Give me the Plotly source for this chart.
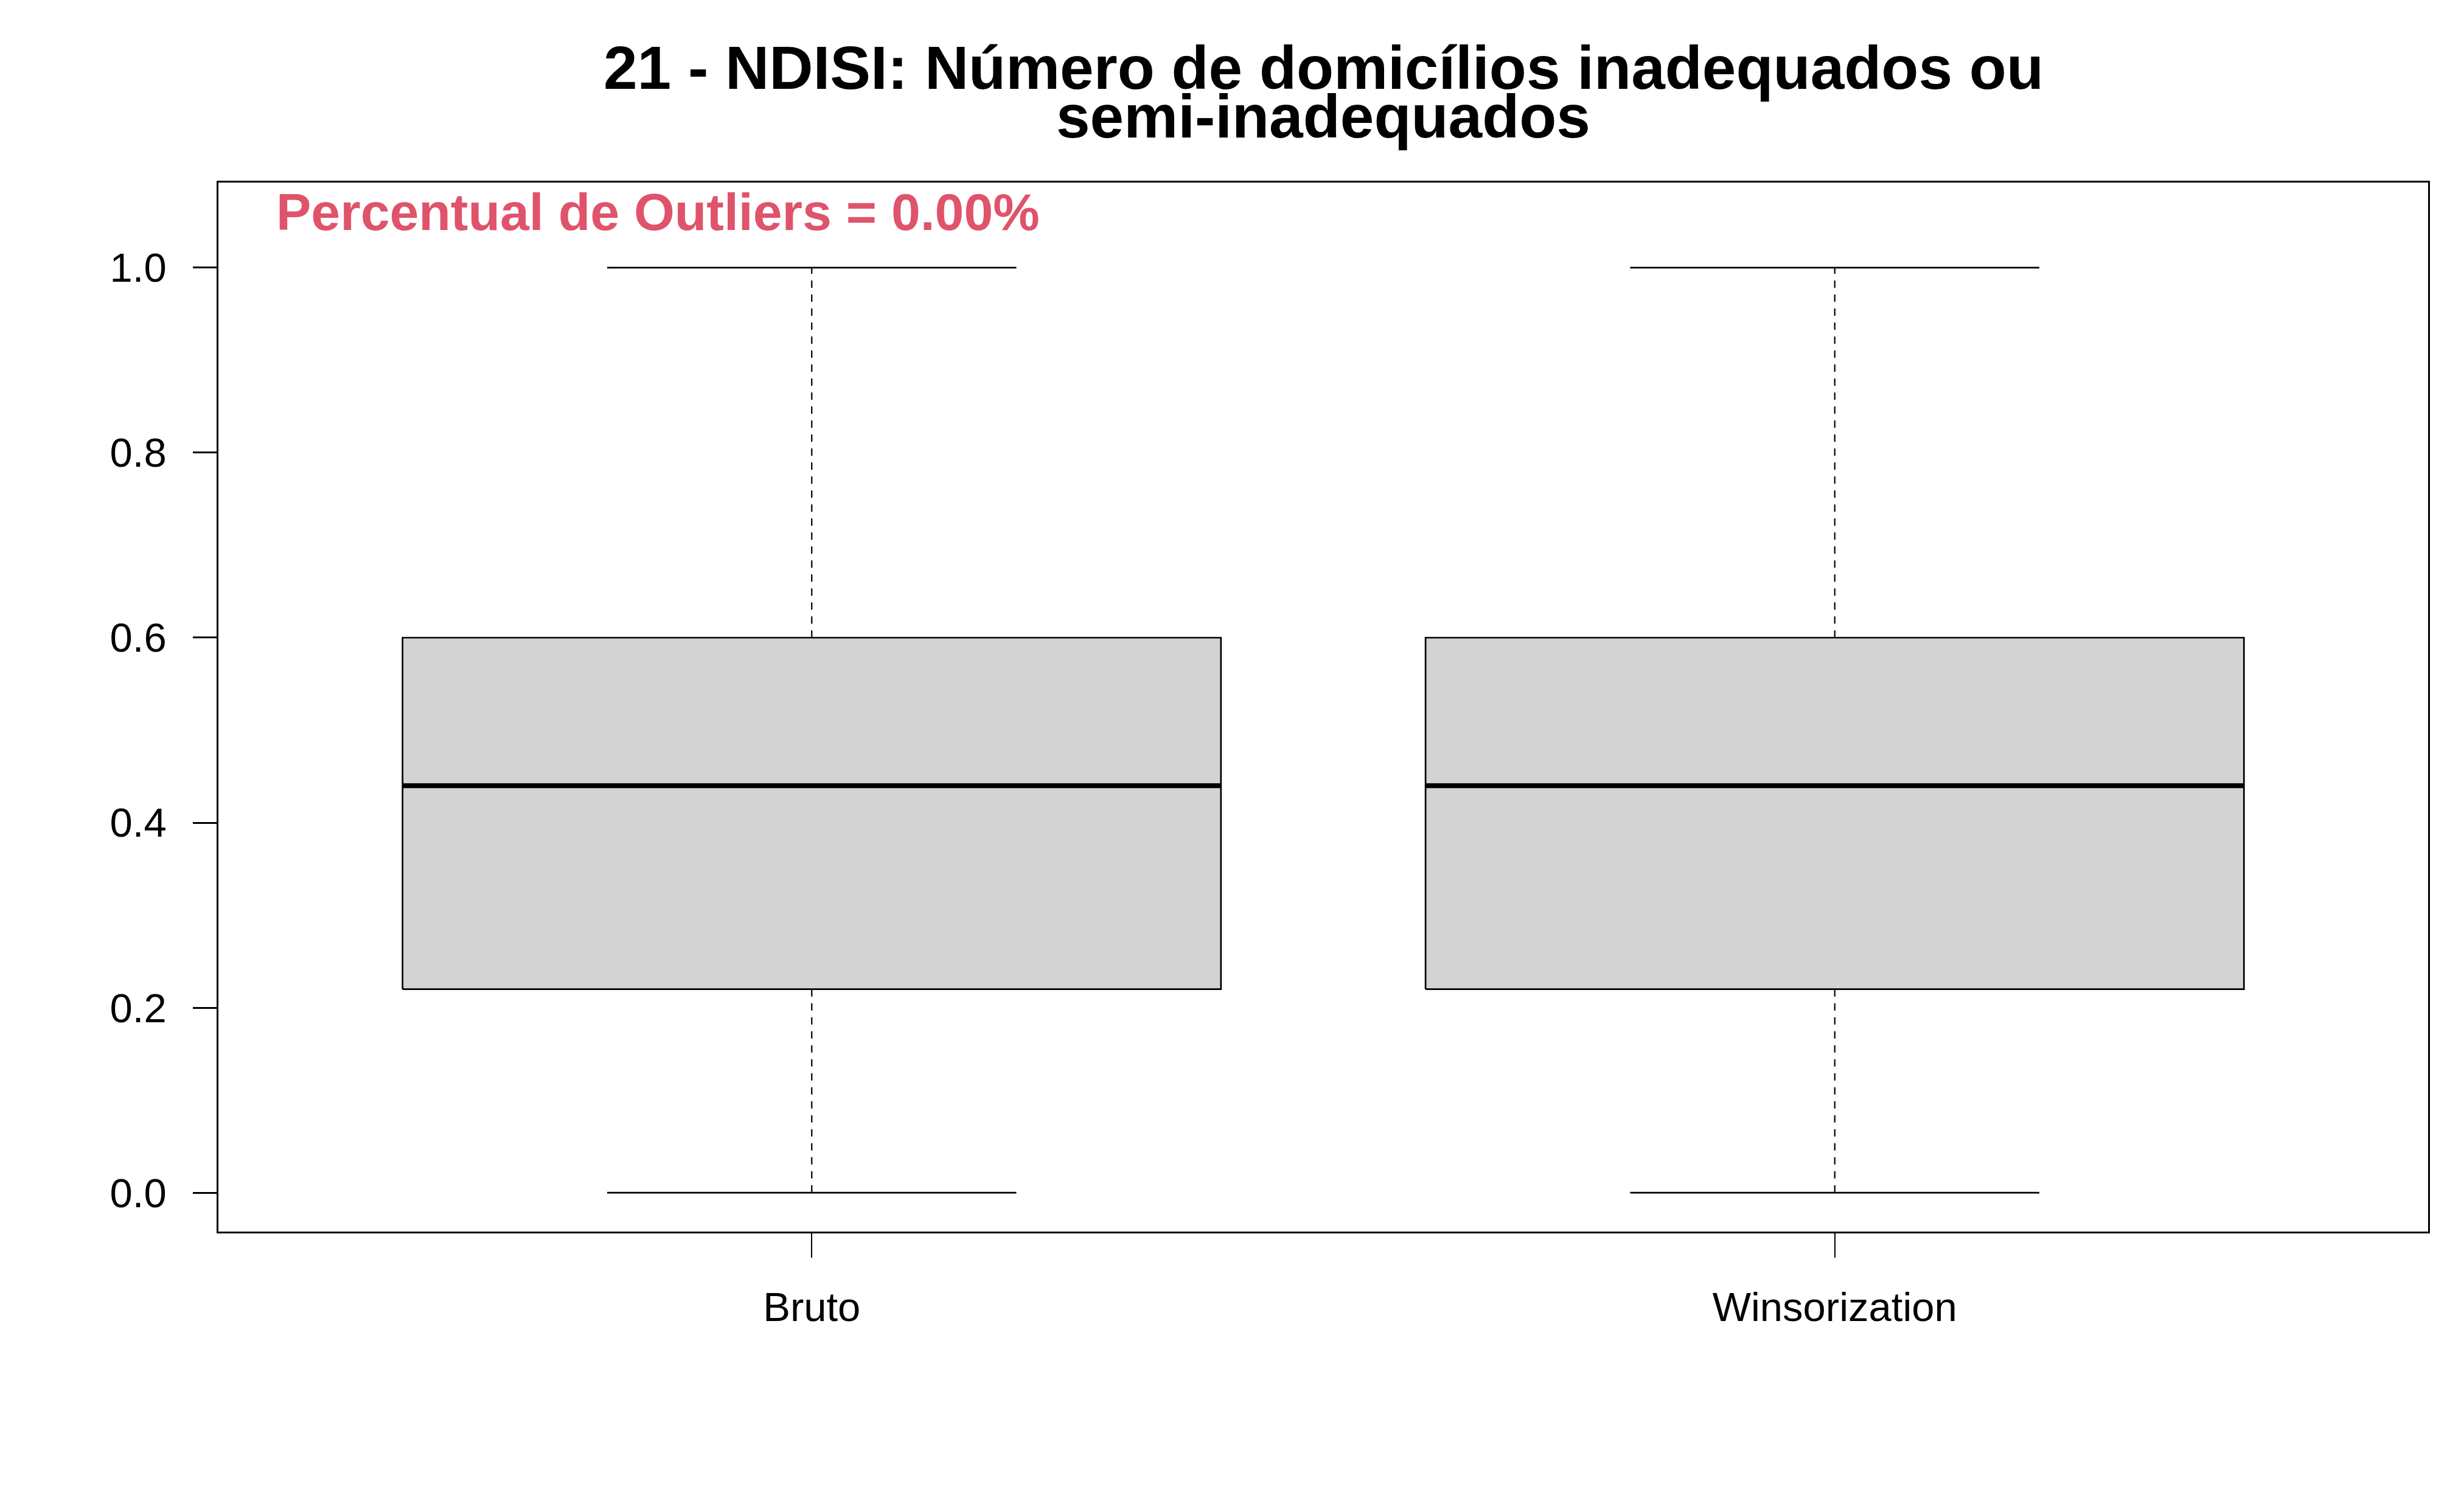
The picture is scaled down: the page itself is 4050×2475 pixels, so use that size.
import plotly.graph_objects as go

# ---- data ----
categories = ["Bruto", "Winsorization"]
lower_whisker = [0.0, 0.0]
q1_values = [0.22, 0.22]
medians = [0.44, 0.44]
q3_values = [0.60, 0.60]
upper_whisker = [1.0, 1.0]
y_ticks = [0.0, 0.2, 0.4, 0.6, 0.8, 1.0]
y_tick_labels = ["0.0", "0.2", "0.4", "0.6", "0.8", "1.0"]
title_lines = ["21 - NDISI: Número de domicílios inadequados ou", "semi-inadequados"]
outlier_text = "Percentual de Outliers = 0.00%"

# ---- style ----
FONT = "Arial, 'Liberation Sans', sans-serif"
BOX_HALF = 0.4
CAP_HALF = 0.2
W, H = 4050, 2475
ML, MR, MT, MB = 359, 59, 300, 451
PH = H - MT - MB

fig = go.Figure()
for i, cat in enumerate(categories):
    pos = i + 1
    # box body
    fig.add_trace(go.Scatter(
        x=[pos - BOX_HALF, pos + BOX_HALF, pos + BOX_HALF, pos - BOX_HALF, pos - BOX_HALF],
        y=[q1_values[i], q1_values[i], q3_values[i], q3_values[i], q1_values[i]],
        mode="lines", fill="toself", fillcolor="#D3D3D3",
        line=dict(color="black", width=2.7), showlegend=False, hoverinfo="skip"))
    # median
    fig.add_trace(go.Scatter(
        x=[pos - BOX_HALF, pos + BOX_HALF], y=[medians[i], medians[i]],
        mode="lines", line=dict(color="black", width=8), showlegend=False, hoverinfo="skip"))
    # whiskers (dashed)
    fig.add_trace(go.Scatter(
        x=[pos, pos], y=[q3_values[i], upper_whisker[i]],
        mode="lines", line=dict(color="black", width=2.2, dash="12px,11px"),
        showlegend=False, hoverinfo="skip"))
    fig.add_trace(go.Scatter(
        x=[pos, pos], y=[q1_values[i], lower_whisker[i]],
        mode="lines", line=dict(color="black", width=2.2, dash="12px,11px"),
        showlegend=False, hoverinfo="skip"))
    # caps
    for v in (upper_whisker[i], lower_whisker[i]):
        fig.add_trace(go.Scatter(
            x=[pos - CAP_HALF, pos + CAP_HALF], y=[v, v],
            mode="lines", line=dict(color="black", width=2.7),
            showlegend=False, hoverinfo="skip"))

def py(px):
    return (H - MB - px) / PH

annotations = [
    dict(text=title_lines[0], x=0.5, xref="paper", y=py(111), yref="paper",
         xanchor="center", yanchor="middle", showarrow=False,
         font=dict(family=FONT, size=100, color="black", weight="bold")),
    dict(text=title_lines[1], x=0.5, xref="paper", y=py(191), yref="paper",
         xanchor="center", yanchor="middle", showarrow=False,
         font=dict(family=FONT, size=100, color="black", weight="bold")),
    dict(text=outlier_text, x=(452 - ML) / (W - ML - MR), xref="paper", y=py(348), yref="paper",
         xanchor="left", yanchor="middle", showarrow=False,
         font=dict(family=FONT, size=86, color="#DF536B", weight="bold")),
]

fig.update_layout(
    width=W, height=H,
    margin=dict(l=ML, r=MR, t=MT, b=MB, pad=0),
    paper_bgcolor="white", plot_bgcolor="white",
    showlegend=False,
    annotations=annotations,
    font=dict(family=FONT, color="black"),
)
fig.update_xaxes(
    range=[0.42, 2.58], tickmode="array", tickvals=[1, 2], ticktext=categories,
    ticks="outside", ticklen=40, tickwidth=2.2, tickcolor="black",
    showline=True, linecolor="black", linewidth=2.7, mirror=True,
    showgrid=False, zeroline=False, ticklabelstandoff=24,
    tickfont=dict(family=FONT, size=67, color="black"),
)
fig.update_yaxes(
    range=[-0.042, 1.092], tickmode="array", tickvals=y_ticks, ticktext=y_tick_labels,
    ticks="outside", ticklen=39, tickwidth=2.7, tickcolor="black",
    showline=True, linecolor="black", linewidth=2.7, mirror=True,
    showgrid=False, zeroline=False, ticklabelstandoff=30,
    tickfont=dict(family=FONT, size=67, color="black"),
)

fig.write_html("out.html")
